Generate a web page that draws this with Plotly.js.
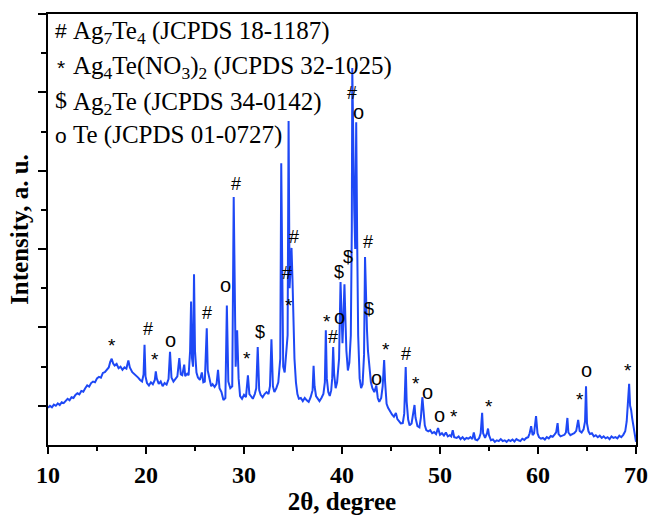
<!DOCTYPE html>
<html>
<head>
<meta charset="utf-8">
<script src="https://cdn.plot.ly/plotly-3.0.1.min.js"></script>
<style>html,body{margin:0;padding:0;background:#fff;}#chart{width:652px;height:515px;}</style>
</head>
<body>
<div id="chart"></div>
<script>
// 2θ positions (degree)
const twoTheta = [
10.0,10.2,10.4,10.6,10.8,11.0,11.2,11.4,11.6,11.8,12.0,12.2,12.4,12.6,12.8,13.0,13.2,13.4,13.6,13.8,
14.0,14.2,14.4,14.6,14.8,15.0,15.2,15.4,15.6,15.8,16.0,16.2,16.35,16.5,16.65,16.8,17.0,17.2,17.4,17.6,
17.8,18.0,18.2,18.35,18.6,18.8,19.0,19.2,19.4,19.6,19.75,19.85,19.95,20.1,20.3,20.5,20.7,20.9,21.0,21.1,
21.3,21.5,21.7,21.9,22.1,22.3,22.45,22.6,22.8,23.0,23.2,23.4,23.55,23.7,23.9,24.0,24.2,24.35,24.5,24.6,
24.7,24.8,24.9,25.0,25.15,25.3,25.5,25.7,25.85,26.0,26.2,26.3,26.5,26.65,26.8,27.0,27.2,27.35,27.5,27.7,
27.9,28.1,28.25,28.4,28.6,28.8,28.95,29.05,29.15,29.3,29.45,29.6,29.8,30.0,30.2,30.4,30.55,30.7,30.9,31.1,
31.25,31.4,31.55,31.7,31.9,32.1,32.3,32.5,32.65,32.8,32.95,33.1,33.3,33.5,33.7,33.8,33.9,34.0,34.15,34.3,
34.45,34.55,34.65,34.75,34.85,34.95,35.05,35.15,35.3,35.45,35.6,35.8,36.0,36.2,36.4,36.6,36.8,37.0,37.1,37.2,
37.35,37.5,37.7,37.9,38.1,38.25,38.35,38.45,38.6,38.75,38.9,39.0,39.1,39.2,39.35,39.5,39.7,39.85,39.95,40.05,
40.15,40.25,40.35,40.45,40.6,40.75,40.9,41.0,41.05,41.15,41.25,41.35,41.45,41.55,41.65,41.8,41.95,42.1,42.25,42.35,
42.45,42.55,42.65,42.8,42.95,43.1,43.3,43.5,43.65,43.8,44.0,44.15,44.3,44.4,44.55,44.7,44.9,45.1,45.3,45.5,
45.65,45.8,46.0,46.2,46.35,46.5,46.6,46.75,46.9,47.1,47.3,47.4,47.5,47.7,47.9,48.05,48.2,48.3,48.45,48.6,
48.8,49.0,49.2,49.4,49.6,49.8,50.0,50.2,50.4,50.6,50.8,51.0,51.15,51.3,51.45,51.7,51.9,52.1,52.3,52.5,
52.7,52.9,53.1,53.3,53.45,53.6,53.8,54.0,54.15,54.3,54.4,54.6,54.8,54.9,55.0,55.2,55.4,55.6,55.8,56.0,
56.2,56.4,56.6,56.8,57.0,57.2,57.4,57.6,57.8,58.0,58.2,58.4,58.6,58.8,59.0,59.15,59.3,59.45,59.6,59.8,
59.95,60.1,60.3,60.5,60.7,60.9,61.1,61.3,61.5,61.7,61.85,62.0,62.1,62.3,62.5,62.7,62.85,63.0,63.1,63.3,
63.5,63.7,63.9,64.1,64.25,64.45,64.65,64.8,64.9,65.0,65.15,65.3,65.5,65.7,65.9,66.1,66.3,66.5,66.7,66.9,
67.1,67.3,67.5,67.7,67.9,68.1,68.3,68.5,68.7,68.9,69.05,69.2,69.3,69.4,69.5,69.6,69.75,69.9,70.0
];
// intensity (arbitrary units)
const intensity = [
0.95,1.00,0.96,1.03,1.00,1.06,1.02,1.09,1.07,1.14,1.18,1.14,1.22,1.20,1.28,1.32,1.29,1.38,1.36,1.45,
1.52,1.49,1.58,1.62,1.60,1.70,1.74,1.72,1.84,1.86,1.92,1.98,2.12,2.20,2.08,2.03,2.07,1.96,2.00,1.92,
1.98,1.95,2.16,1.98,1.86,1.82,1.76,1.72,1.66,1.62,1.80,2.56,1.75,1.58,1.52,1.60,1.55,1.66,1.88,1.70,
1.56,1.62,1.50,1.58,1.54,1.68,2.38,1.72,1.62,1.70,1.75,2.22,1.80,1.78,2.05,1.76,1.82,1.78,2.40,3.66,
2.20,2.00,4.36,2.40,1.85,1.72,1.66,1.85,1.60,1.62,2.98,1.90,1.62,1.50,1.55,1.48,1.56,1.92,1.45,1.35,
1.15,1.20,3.56,1.62,1.45,1.50,6.33,3.20,2.00,2.93,1.70,1.25,1.18,1.28,1.22,1.78,1.30,1.25,1.18,1.30,
1.45,2.50,1.40,1.28,1.22,1.30,1.35,1.30,1.50,2.70,1.50,1.35,1.45,1.60,2.20,7.19,3.50,2.00,1.85,2.30,
2.80,8.27,4.00,4.50,5.03,4.20,3.06,2.20,1.60,1.30,1.18,1.20,1.12,1.20,1.14,1.10,1.22,1.40,2.02,1.50,
1.25,1.18,1.12,1.20,1.30,1.60,2.93,1.70,1.35,1.25,1.40,1.70,2.50,1.80,1.45,1.60,2.20,4.16,3.00,2.60,
3.30,4.10,3.20,2.40,1.90,2.10,2.80,5.50,9.62,7.50,6.00,5.00,8.24,5.20,2.80,1.70,1.45,1.55,2.30,4.80,
3.40,2.93,2.40,1.90,1.60,1.45,1.35,1.52,1.20,1.10,1.20,1.50,2.17,1.60,1.05,0.95,0.85,0.78,0.72,0.82,
0.66,0.60,0.55,0.56,0.80,1.99,1.10,0.65,0.50,0.55,0.80,1.02,0.70,0.48,0.45,0.70,1.22,0.85,0.50,0.38,
0.35,0.38,0.30,0.33,0.28,0.43,0.26,0.30,0.24,0.32,0.22,0.25,0.22,0.38,0.20,0.18,0.22,0.15,0.20,0.14,
0.18,0.16,0.20,0.15,0.32,0.14,0.12,0.18,0.30,0.82,0.30,0.18,0.30,0.42,0.25,0.12,0.14,0.08,0.12,0.10,
0.15,0.10,0.12,0.08,0.13,0.10,0.14,0.09,0.15,0.12,0.10,0.16,0.13,0.18,0.20,0.30,0.48,0.25,0.30,0.74,
0.30,0.20,0.16,0.18,0.14,0.20,0.17,0.23,0.21,0.27,0.32,0.56,0.28,0.22,0.24,0.26,0.32,0.69,0.32,0.25,
0.28,0.30,0.36,0.64,0.36,0.32,0.40,0.60,1.50,0.55,0.35,0.28,0.30,0.22,0.25,0.20,0.24,0.18,0.22,0.17,
0.20,0.15,0.22,0.18,0.20,0.17,0.24,0.20,0.26,0.35,0.60,1.20,1.56,1.00,0.90,0.70,0.45,0.30,0.08
];
// phase markers placed above peaks
const markLabels = ['*','#','*','o','#','o','#','*','$','#','*','#','*','#','o','$','$','#','o','#','$','o','*','#','*','o','o','*','*','*','o','*'];
const markX = [16.5,20.2,20.9,22.55,26.2,28.1,29.2,30.3,31.6,34.4,34.6,35.1,38.5,39.1,39.7,39.7,40.6,41.0,41.7,42.65,42.75,43.5,44.5,46.5,47.55,48.7,49.9,51.4,55.0,64.3,64.9,69.2];
const markY = [2.55,2.96,2.17,2.68,3.37,4.08,6.66,2.22,2.88,4.39,3.57,5.31,3.14,2.76,3.27,4.41,4.80,8.98,8.50,5.18,3.47,1.71,2.45,2.32,1.56,1.35,0.77,0.74,0.97,1.17,1.91,1.89];
// legend lines (phase key)
const keySymbols = ['#','*','$','o'];
const keyTexts = ['Ag<sub>7</sub>Te<sub>4</sub> (JCPDS 18-1187)','Ag<sub>4</sub>Te(NO<sub>3</sub>)<sub>2</sub> (JCPDS 32-1025)','Ag<sub>2</sub>Te (JCPDS 34-0142)','Te (JCPDS 01-0727)'];
const xTicks = [10,20,30,40,50,60,70];

const serif = 'Liberation Serif';
const sans = 'Liberation Sans';

const annotations = [];
for (let i = 0; i < markLabels.length; i++) {
  const s = markLabels[i];
  annotations.push({
    x: markX[i], y: markY[i], xref: 'x', yref: 'y', text: s, showarrow: false,
    xanchor: 'center', yanchor: 'middle',
    font: {family: sans, size: s === 'o' ? 20 : (s === '*' ? 19 : 18), color: '#000'}
  });
}
const keySymY = [0.961, 0.876, 0.800, 0.719];
const keyTextY = [0.957, 0.875, 0.792, 0.719];
for (let i = 0; i < keySymbols.length; i++) {
  annotations.push({
    x: 0.022, y: keySymY[i], xref: 'paper', yref: 'paper', xanchor: 'center', yanchor: 'middle',
    showarrow: false, text: keySymbols[i],
    font: {family: keySymbols[i] === '$' ? serif : sans, size: keySymbols[i] === 'o' ? 21 : (keySymbols[i] === '$' ? 24 : 21), color: '#000'}
  });
  annotations.push({
    x: 0.039, y: keyTextY[i], xref: 'paper', yref: 'paper', xanchor: 'left', yanchor: 'middle',
    showarrow: false, align: 'left', text: keyTexts[i],
    font: {family: serif, size: 25, color: '#000'}
  });
}

const trace = {
  x: twoTheta, y: intensity, type: 'scatter', mode: 'lines',
  line: {color: '#1e48f5', width: 2}, hoverinfo: 'skip'
};

const layout = {
  width: 652, height: 515,
  margin: {l: 48, r: 16, t: 14, b: 70},
  paper_bgcolor: '#fff', plot_bgcolor: '#fff',
  font: {family: serif},
  showlegend: false,
  xaxis: {
    range: [10, 70], showgrid: false, zeroline: false,
    showline: true, linecolor: '#000', linewidth: 2, mirror: true,
    ticks: 'outside', ticklen: 7, tickwidth: 2, tickcolor: '#000',
    tickvals: xTicks, ticktext: xTicks.map(String),
    tickfont: {family: serif, size: 24, weight: 'bold', color: '#000'},
    minor: {ticks: 'outside', tickvals: [15,25,35,45,55,65], ticklen: 4, tickwidth: 2, tickcolor: '#000'},
    title: {text: '2θ, degree', font: {family: serif, size: 25, weight: 'bold', color: '#000'}, standoff: 4}
  },
  yaxis: {
    range: [0, 11], showgrid: false, zeroline: false,
    showline: true, linecolor: '#000', linewidth: 2, mirror: true,
    ticks: 'outside', ticklen: 8, tickwidth: 2, tickcolor: '#000',
    tickvals: [1,3,5,7,9,11], showticklabels: false,
    minor: {ticks: 'outside', tickvals: [2,4,6,8,10], ticklen: 5, tickwidth: 2, tickcolor: '#000'},
    title: {text: 'Intensity, a. u.', font: {family: serif, size: 25, weight: 'bold', color: '#000'}, standoff: 2}
  },
  annotations: annotations
};

Plotly.newPlot('chart', [trace], layout, {displayModeBar: false, staticPlot: true});
</script>
</body>
</html>
